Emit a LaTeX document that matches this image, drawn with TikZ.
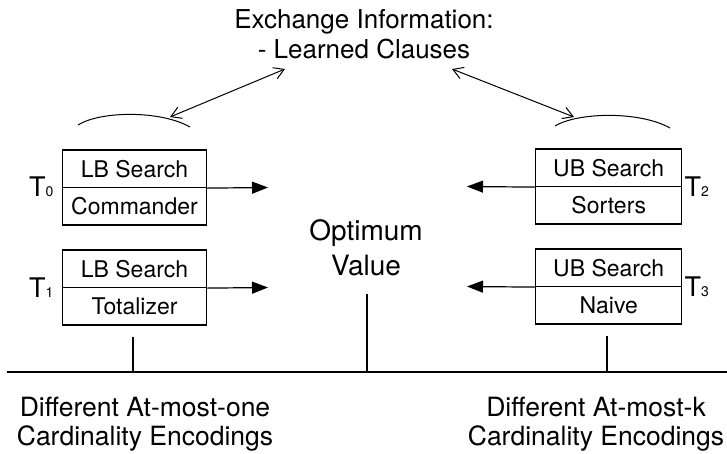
\documentclass[tikz,border=0pt]{standalone}
\usepackage{fontspec}
\setmainfont{TeX Gyre Heros}
\usetikzlibrary{arrows.meta}
\begin{document}
\begin{tikzpicture}[x=1pt, y=-1pt, line width=1.2pt,
  half/.style={draw, minimum width=144pt, minimum height=37.5pt, inner sep=0pt,
    font=\fontsize{23}{23}\selectfont, text height=16.5pt, text depth=0pt},
  thread/.style={inner sep=0pt, font=\fontsize{27}{27}\selectfont,
    text height=19.5pt, text depth=0pt},
  caption/.style={inner sep=0pt, align=center, anchor=north},
  push/.style={-{Triangle[length=16pt,width=12pt]}},
  share/.style={line width=1pt,
    {Straight Barb[length=10pt,width=12pt]}-{Straight Barb[length=10pt,width=12pt]}},
  tick/.style={line width=1.2pt}
]
\useasboundingbox (0,0) rectangle (727,453);

% shared information
\node[caption, font=\fontsize{26}{30}\selectfont] (info) at (364,9.3)
  {Exchange Information:\\- Learned Clauses};

% lower-bound threads
\node[half] (lb0) at (134.5,168.75) {LB Search};
\node[half] (cm0) at (134.5,206.25) {Commander};
\node[half] (lb1) at (134.5,268.75) {LB Search};
\node[half] (tz1) at (134.5,306.25) {Totalizer};

% upper-bound threads
\node[half, minimum width=146pt] (ub2) at (608.7,167.75) {UB Search};
\node[half, minimum width=146pt] (so2) at (608.7,205.25) {Sorters};
\node[half, minimum width=146pt] (ub3) at (608.7,267.75) {UB Search};
\node[half, minimum width=146pt] (nv3) at (608.7,305.25) {Naive};

% thread names
\node[thread, anchor=east] (t0) at (54,187) {T{\fontsize{14}{14}\selectfont 0}};
\node[thread, anchor=east] (t1) at (54,287.5) {T{\fontsize{14}{14}\selectfont 1}};
\node[thread, anchor=west] (t2) at (684,186.5) {T{\fontsize{14}{14}\selectfont 2}};
\node[thread, anchor=west] (t3) at (684,286.5) {T{\fontsize{14}{14}\selectfont 3}};

% goal
\node[caption, font=\fontsize{28}{35}\selectfont] (opt) at (366,218.6) {Optimum\\Value};

% encoding families
\node[caption, font=\fontsize{26.5}{29}\selectfont] (amo) at (145,396.7)
  {Different At-most-one\\Cardinality Encodings};
\node[caption, font=\fontsize{26.5}{29}\selectfont] (amk) at (596,396.7)
  {Different At-most-k\\Cardinality Encodings};

% bound arrows towards the optimum
\coordinate (a0) at (268,187.5);
\coordinate (a1) at (268,287.5);
\coordinate (a2) at (467,186.5);
\coordinate (a3) at (467,286.5);
\draw[push] (lb0.south east) -- (a0);
\draw[push] (lb1.south east) -- (a1);
\draw[push] (ub2.south west) -- (a2);
\draw[push] (ub3.south west) -- (a3);

% thread groups exchanging clauses
\coordinate (gl) at (170,117);
\coordinate (gr) at (574,117);
\coordinate (il) at (285,69);
\coordinate (ir) at (452,69);
\draw[line width=1pt] (78,125) .. controls (100,111) and (160,110) .. (190,127);
\draw[line width=1pt] (555,126) .. controls (578,112) and (640,111) .. (670,128);
\draw[share] (gl) -- (il);
\draw[share] (gr) -- (ir);

% baseline and ticks
\coordinate (bl) at (7,372);
\coordinate (br) at (727,372);
\coordinate (k0) at (133,372);
\coordinate (k1) at (367,372);
\coordinate (k2) at (607,372);
\draw (bl) -- (br);
\draw[tick] (k0) -- ++(0,-35);
\draw[tick] (k1) -- ++(0,-78);
\draw[tick] (k2) -- ++(0,-36);
\end{tikzpicture}
\end{document}
